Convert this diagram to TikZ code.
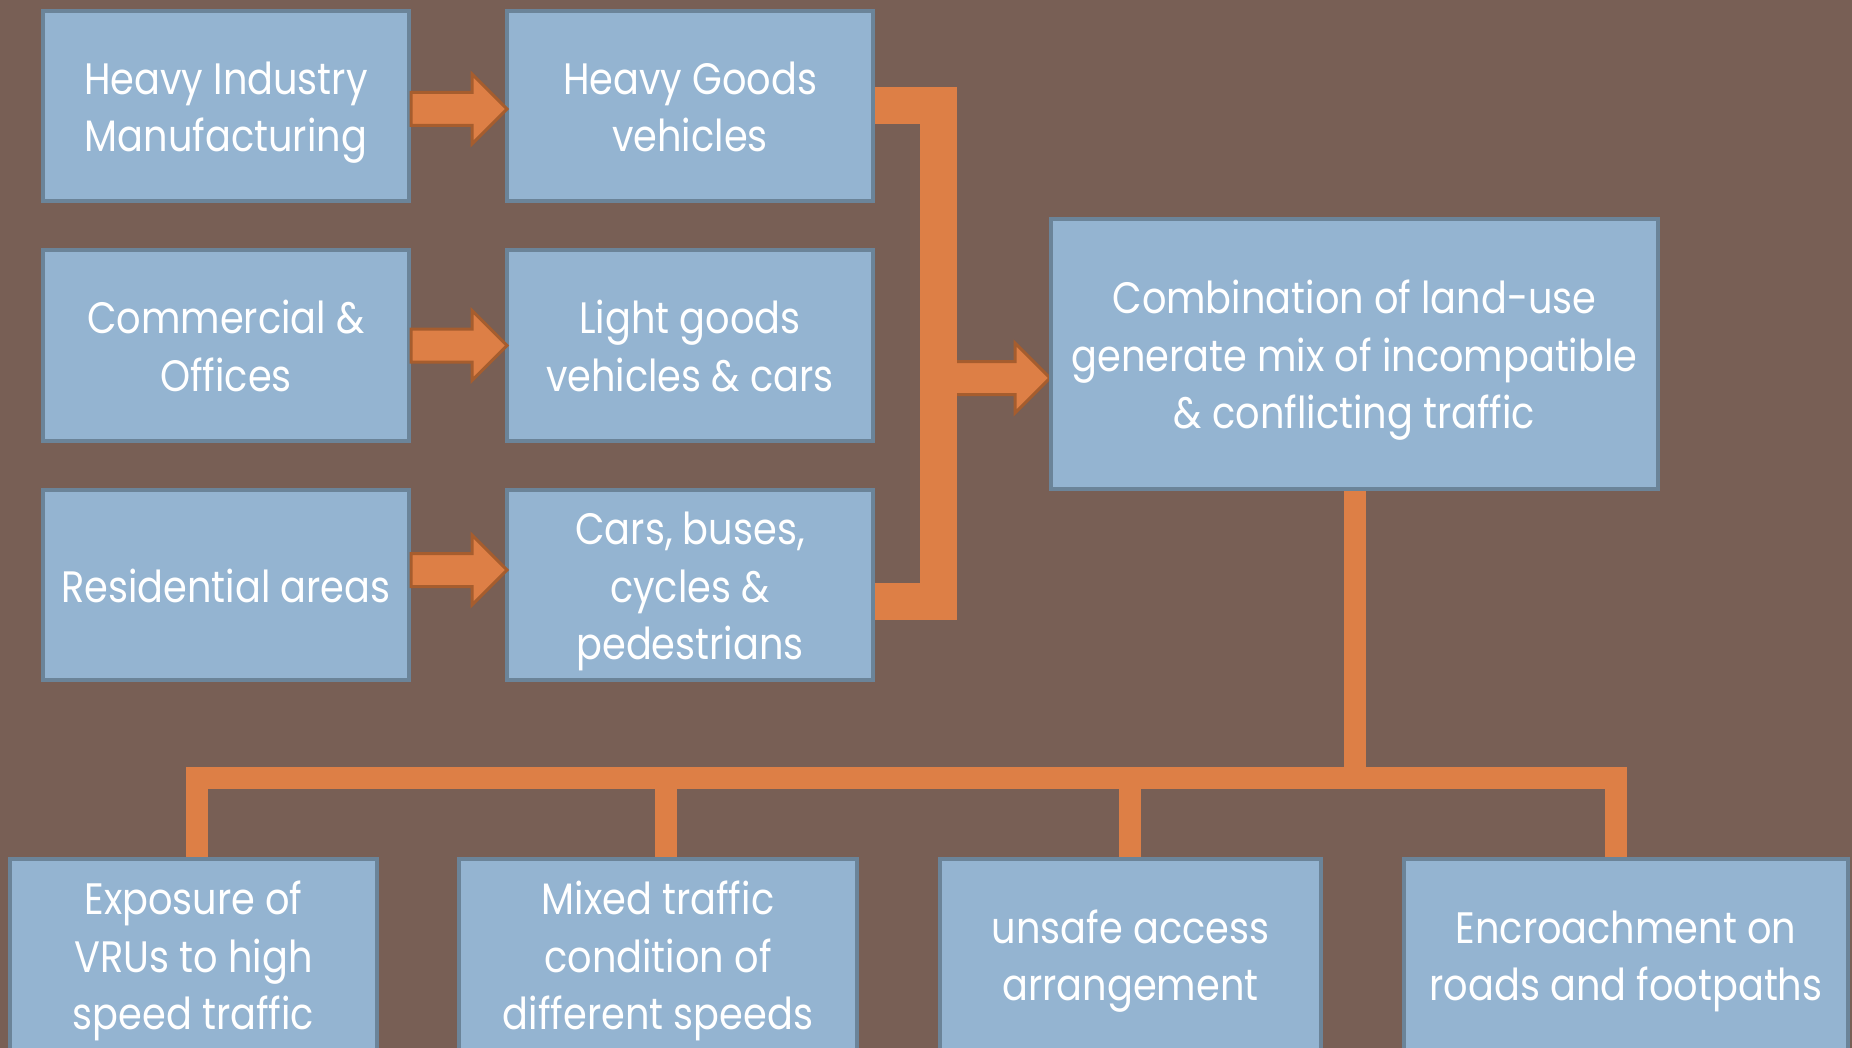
\documentclass[tikz,border=0pt]{standalone}
\usepackage{fontspec}
\setmainfont{Poppins}[FakeStretch=0.87]
\usetikzlibrary{calc}
\definecolor{bgbrown}{HTML}{785F55}
\definecolor{boxfill}{HTML}{94B4D1}
\definecolor{boxedge}{HTML}{6B8499}
\definecolor{orng}{HTML}{DD7F46}
\definecolor{arredge}{HTML}{A65D2E}
\pgfdeclarelayer{bg}
\pgfsetlayers{bg,main}
\newcommand\boxtext[1]{\raisebox{-8pt}[0pt][0pt]{\begin{tabular}{@{}c@{}}#1\end{tabular}}}
\tikzset{
  box/.style={rectangle, fill=boxfill, draw=boxedge, line width=2pt, text=white,
    inner sep=0pt, font=\fontsize{22}{28.75}\selectfont},
  abox/.style={box, minimum width=183pt, minimum height=95pt},
  cbox/.style={box, minimum width=303.5pt, minimum height=135pt},
  dbox/.style={box, minimum height=96pt},
  bus/.style={draw=orng, line width=18.5pt, line cap=butt, line join=miter},
  tree/.style={draw=orng, line width=11pt, line cap=butt, line join=miter},
  barrow/.style={fill=orng, draw=arredge, line width=1.5pt, line join=miter},
}
\newcommand\blockarr[2]{%
  \draw[barrow] let \p1=(#1), \p2=(#2) in
    (\x1,\y1+8.25pt) -- (\x2-17.5pt,\y1+8.25pt) -- (\x2-17.5pt,\y1+17.5pt)
    -- (\x2,\y1) -- (\x2-17.5pt,\y1-17.5pt) -- (\x2-17.5pt,\y1-8.25pt)
    -- (\x1,\y1-8.25pt) -- cycle;}
\begin{document}
\begin{tikzpicture}[x=0.5pt,y=-0.5pt]
\useasboundingbox (0,0) rectangle (1852,1048);
\begin{pgfonlayer}{bg}
\fill[bgbrown] (0,0) rectangle (1852,1048);
\end{pgfonlayer}

% left column
\node[abox] (a1) at (226,106) {\boxtext{Heavy Industry\\Manufacturing}};
\node[abox] (a2) at (226,345.5) {\boxtext{Commercial \&\\Offices}};
\node[abox] (a3) at (226,585) {\boxtext{Residential areas}};
% middle column
\node[abox] (b1) at (690,106) {\boxtext{Heavy Goods\\vehicles}};
\node[abox] (b2) at (690,345.5) {\boxtext{Light goods\\vehicles \& cars}};
\node[abox] (b3) at (690,585) {\boxtext{Cars, buses,\\cycles \&\\pedestrians}};
% result
\node[cbox] (c) at (1354.5,354) {\boxtext{Combination of land-use\\generate mix of incompatible\\\& conflicting traffic}};
% bottom row
\node[dbox, minimum width=183.5pt] (d1) at (193.5,955) {\boxtext{Exposure of\\VRUs to high\\speed traffic}};
\node[dbox, minimum width=199pt] (d2) at (658,955) {\boxtext{Mixed traffic\\condition of\\different speeds}};
\node[dbox, minimum width=190.5pt] (d3) at (1130.5,955) {\boxtext{unsafe access\\arrangement}};
\node[dbox, minimum width=222pt] (d4) at (1626,955) {\boxtext{Encroachment on\\roads and footpaths}};

% junction points
\coordinate (busT) at (938,106);
\coordinate (busM) at (938,378);
\coordinate (busB) at (938,601);
\coordinate (j1) at (197,778);
\coordinate (j2) at (666,778);
\coordinate (j3) at (1130,778);
\coordinate (j4) at (1616,778);

\begin{pgfonlayer}{bg}
\blockarr{busM}{$(c.west |- busM)+(1,0)$}
\draw[bus] (b1.east) -- (busT) -- (busB) -- (b3.east |- busB);
\draw[tree] (j1 |- d1.north) -- (j1) -- (j4) -- (j4 |- d4.north);
\draw[tree] (j2 |- d2.north) -- (j2);
\draw[tree] (j3 |- d3.north) -- (j3);
\draw[tree] (c.south) -- (c.south |- j1);
\end{pgfonlayer}

% block arrows
\blockarr{$(a1.east)+(0,3)$}{$(b1.west)+(2,3)$}
\blockarr{a2.east}{$(b2.west)+(2,0)$}
\blockarr{$(a3.east)+(0,-15)$}{$(b3.west)+(2,-15)$}
\end{tikzpicture}
\end{document}
